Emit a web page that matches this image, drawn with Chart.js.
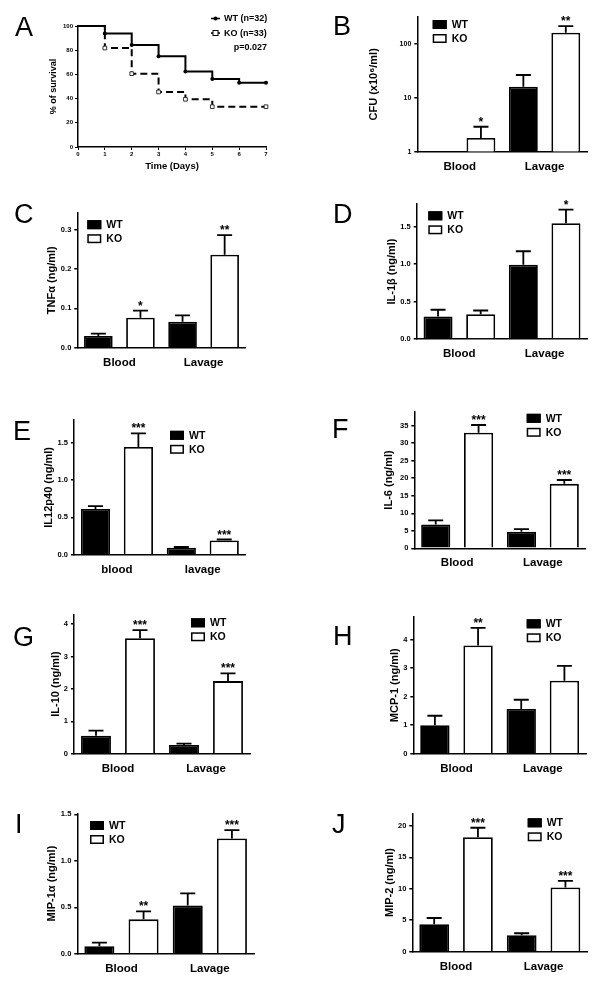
<!DOCTYPE html>
<html>
<head>
<meta charset="utf-8">
<script src="https://cdn.jsdelivr.net/npm/chart.js@4/dist/chart.umd.min.js"></script>
<style>
  body { margin: 0; background: #fff; width: 602px; height: 988px; position: relative; overflow: hidden; }
  canvas { position: absolute; left: 0; top: 0; }
</style>
</head>
<body>
<canvas id="pA" width="602" height="988"></canvas>
<canvas id="pB" width="602" height="988"></canvas>
<canvas id="pC" width="602" height="988"></canvas>
<canvas id="pD" width="602" height="988"></canvas>
<canvas id="pE" width="602" height="988"></canvas>
<canvas id="pF" width="602" height="988"></canvas>
<canvas id="pG" width="602" height="988"></canvas>
<canvas id="pH" width="602" height="988"></canvas>
<canvas id="pI" width="602" height="988"></canvas>
<canvas id="pJ" width="602" height="988"></canvas>
<script>
/* ---------- data ---------- */

// A - survival
const days = [0, 1, 2, 3, 4, 5, 6, 7];
const wtSurvival = [100, 93.8, 84.4, 75.0, 62.5, 56.3, 53.1, 53.1];
const koSurvival = [100, 81.8, 60.6, 45.5, 39.4, 33.3, 33.3, 33.3];
const survivalLabels = ['WT (n=32)', 'KO (n=33)'];
const survivalP = 'p=0.027';
const survivalTicks = [0, 20, 40, 60, 80, 100];

const groups = ['Blood', 'Lavage'];
const groupsLower = ['blood', 'lavage'];
const genotypes = ['WT', 'KO'];

// B - CFU, log axis
const cfuWT = [1, 16];       const cfuWTsem = [0, 10.3];
const cfuKO = [1.8, 160];    const cfuKOsem = [1.1, 52];
const cfuStars = ['*', '**'];
const cfuTicks = [1, 10, 100];

// C - TNFa
const tnfWT = [0.030, 0.066];  const tnfWTsem = [0.006, 0.016];
const tnfKO = [0.076, 0.236];  const tnfKOsem = [0.018, 0.050];
const tnfStars = ['*', '**'];
const tnfTicks = [0, 0.1, 0.2, 0.3];

// D - IL-1b
const il1WT = [0.30, 0.99];   const il1WTsem = [0.09, 0.18];
const il1KO = [0.33, 1.545];  const il1KOsem = [0.05, 0.18];
const il1Stars = ['', '*'];
const il1Ticks = [0, 0.5, 1.0, 1.5];

// E - IL12p40
const il12WT = [0.61, 0.094]; const il12WTsem = [0.04, 0.009];
const il12KO = [1.44, 0.19];  const il12KOsem = [0.18, 0.013];
const il12Stars = ['***', '***'];
const il12Ticks = [0, 0.5, 1.0, 1.5];

// F - IL-6
const il6WT = [6.8, 4.7];     const il6WTsem = [1.2, 0.75];
const il6KO = [33.0, 18.4];   const il6KOsem = [2.2, 1.1];
const il6Stars = ['***', '***'];
const il6Ticks = [0, 5, 10, 15, 20, 25, 30, 35];

// G - IL-10
const il10WT = [0.55, 0.27];  const il10WTsem = [0.16, 0.04];
const il10KO = [3.56, 2.24];  const il10KOsem = [0.25, 0.24];
const il10Stars = ['***', '***'];
const il10Ticks = [0, 1, 2, 3, 4];

// H - MCP-1
const mcpWT = [1.0, 1.57];    const mcpWTsem = [0.33, 0.32];
const mcpKO = [3.79, 2.56];   const mcpKOsem = [0.62, 0.52];
const mcpStars = ['**', ''];
const mcpTicks = [0, 1, 2, 3, 4];

// I - MIP-1a
const mip1WT = [0.08, 0.52];  const mip1WTsem = [0.04, 0.13];
const mip1KO = [0.37, 1.24];  const mip1KOsem = [0.085, 0.09];
const mip1Stars = ['**', '***'];
const mip1Ticks = [0, 0.5, 1.0, 1.5];

// J - MIP-2
const mip2WT = [4.36, 2.61];  const mip2WTsem = [1.0, 0.32];
const mip2KO = [18.2, 10.2];  const mip2KOsem = [1.5, 1.07];
const mip2Stars = ['***', '***'];
const mip2Ticks = [0, 5, 10, 15, 20];

/* ---------- layout helpers ---------- */

const FONT = '"Liberation Sans", Arial, Helvetica, sans-serif';
Chart.defaults.font.family = FONT;
Chart.defaults.color = '#000';

const PAGE_W = 602, PAGE_H = 988, Y_W = 40, X_H = 30;

function pad(r) {
    return { left: r.l - Y_W, top: r.t, right: PAGE_W - r.r, bottom: PAGE_H - r.b - X_H };
}
function fixW(s) { s.width = Y_W; }
function fixH(s) { s.height = X_H; }

function yTitle(text, r, cx, size) {
    const lh = size * 1.2;
    return {
        display: true, text, color: '#000',
        font: { size, weight: 'bold' },
        padding: { top: cx - (r.l - Y_W) - lh / 2, bottom: 0 }
    };
}

// error bars, stars, legend and the panel letter
const decor = {
    id: 'decor',
    afterDatasetsDraw(chart, args, o) {
        if (!o.sem) return;
        const ctx = chart.ctx;
        const y = chart.scales.y;
        ctx.save();
        ctx.strokeStyle = '#000';
        ctx.fillStyle = '#000';
        ctx.lineWidth = 1.8;
        ctx.font = 'bold 12px ' + FONT;
        ctx.textAlign = 'center';
        ctx.textBaseline = 'alphabetic';
        o.sem.forEach((sem, i) => {
            const vals = chart.data.datasets[i].data;
            chart.getDatasetMeta(i).data.forEach((bar, j) => {
                const top = y.getPixelForValue(vals[j]);
                const end = y.getPixelForValue(vals[j] + sem[j]);
                if (sem[j] > 0) {
                    ctx.beginPath();
                    ctx.moveTo(bar.x, top);
                    ctx.lineTo(bar.x, end);
                    ctx.moveTo(bar.x - 7.5, end);
                    ctx.lineTo(bar.x + 7.5, end);
                    ctx.stroke();
                }
                const star = o.stars[i] && o.stars[i][j];
                if (star) ctx.fillText(star, bar.x, end - 1);
            });
        });
        ctx.restore();
    },
    afterDraw(chart, args, o) {
        const ctx = chart.ctx;
        ctx.save();
        ctx.fillStyle = '#000';
        ctx.strokeStyle = '#000';
        ctx.font = '27px ' + FONT;
        ctx.textAlign = 'left';
        ctx.textBaseline = 'alphabetic';
        ctx.fillText(o.letter, o.letterAt[0], o.letterAt[1]);

        if (o.boxLegend) {
            const [lx, ly] = o.boxLegend;
            ctx.font = 'bold 10.5px ' + FONT;
            ctx.textBaseline = 'middle';
            chart.data.datasets.forEach((ds, i) => {
                const cy = ly + i * 14;
                ctx.fillStyle = ds.backgroundColor;
                ctx.fillRect(lx, cy - 4.5, 14, 9);
                ctx.lineWidth = 1.5;
                ctx.strokeRect(lx + 0.75, cy - 3.75, 12.5, 7.5);
                ctx.fillStyle = '#000';
                ctx.fillText(ds.label, lx + 19, cy + 0.5);
            });
        }

        if (o.lineLegend) {
            const [lx, ly] = o.lineLegend;
            ctx.font = 'bold 9px ' + FONT;
            ctx.textBaseline = 'middle';
            chart.data.datasets.forEach((ds, i) => {
                const cy = ly + i * 14.5;
                ctx.lineWidth = 1.5;
                ctx.setLineDash([]);
                ctx.beginPath();
                ctx.moveTo(lx, cy);
                ctx.lineTo(lx + 9, cy);
                ctx.stroke();
                if (i === 0) {
                    ctx.beginPath();
                    ctx.arc(lx + 4.5, cy, 2, 0, Math.PI * 2);
                    ctx.fill();
                } else {
                    ctx.fillStyle = '#fff';
                    ctx.fillRect(lx + 2, cy - 2.5, 5, 5);
                    ctx.lineWidth = 1;
                    ctx.strokeRect(lx + 2, cy - 2.5, 5, 5);
                    ctx.fillStyle = '#000';
                }
                ctx.fillText(ds.label, lx + 13, cy + 0.5);
            });
            ctx.textAlign = 'right';
            ctx.fillText(o.pText, o.pAt[0], o.pAt[1]);
        }
        ctx.restore();
    }
};

/* ---------- A: survival curve ---------- */

const rectA = { l: 78, t: 26, r: 266, b: 147 };
new Chart(document.getElementById('pA'), {
    type: 'line',
    data: {
        datasets: [
            {
                label: survivalLabels[0],
                data: days.map((d, i) => ({ x: d, y: wtSurvival[i] })),
                stepped: true, clip: false,
                borderColor: '#000', borderWidth: 2,
                pointStyle: 'circle',
                pointRadius: [0, 2, 2, 2, 2, 2, 2, 2],
                pointBackgroundColor: '#000', pointBorderColor: '#000', pointBorderWidth: 0
            },
            {
                label: survivalLabels[1],
                data: days.map((d, i) => ({ x: d, y: koSurvival[i] })),
                stepped: true, clip: false,
                borderColor: '#000', borderWidth: 2, borderDash: [7, 4],
                pointStyle: 'rect',
                pointRadius: [0, 2.6, 2.6, 2.6, 2.6, 2.6, 0, 2.6],
                pointBackgroundColor: '#fff', pointBorderColor: '#333', pointBorderWidth: 1
            }
        ]
    },
    options: {
        responsive: false, animation: false, devicePixelRatio: 1,
        layout: { padding: pad(rectA) },
        plugins: {
            legend: { display: false }, tooltip: { enabled: false },
            decor: { letter: 'A', letterAt: [15, 36], lineLegend: [211, 18.5], pText: survivalP, pAt: [267, 47.5] }
        },
        scales: {
            x: {
                type: 'linear', min: days[0], max: days[days.length - 1],
                afterBuildTicks: s => { s.ticks = days.map(v => ({ value: v })); },
                ticks: { font: { size: 6, weight: 'bold' }, color: '#000', padding: 1 },
                grid: { drawOnChartArea: false, tickLength: 3, color: '#000', lineWidth: 1 },
                border: { color: '#000', width: 1.5 },
                title: { display: true, text: 'Time (Days)', color: '#000', font: { size: 9.5, weight: 'bold' }, padding: { top: 0, bottom: 5.3 } },
                afterFit: fixH
            },
            y: {
                min: 0, max: 100,
                afterBuildTicks: s => { s.ticks = survivalTicks.map(v => ({ value: v })); },
                ticks: { font: { size: 6, weight: 'bold' }, color: '#000', padding: 2 },
                grid: { drawOnChartArea: false, tickLength: 3, color: '#000', lineWidth: 1 },
                border: { color: '#000', width: 1.5 },
                title: yTitle('% of survival', rectA, 54, 9),
                afterFit: fixW
            }
        }
    },
    plugins: [decor]
});

/* ---------- B-J: bar panels ---------- */

function barPanel(p) {
    return new Chart(document.getElementById(p.id), {
        type: 'bar',
        data: {
            labels: p.labels,
            datasets: [
                { label: genotypes[0], data: p.wt, backgroundColor: '#000', borderColor: '#000', borderWidth: 1.8 },
                { label: genotypes[1], data: p.ko, backgroundColor: '#fff', borderColor: '#000', borderWidth: 1.8 }
            ]
        },
        options: {
            responsive: false, animation: false, devicePixelRatio: 1,
            layout: { padding: pad(p.rect) },
            datasets: { bar: { categoryPercentage: 1, barPercentage: 0.68 } },
            plugins: {
                legend: { display: false }, tooltip: { enabled: false },
                decor: {
                    sem: [p.wtSem, p.koSem], stars: [[], p.stars],
                    letter: p.letter, letterAt: p.letterAt, boxLegend: p.legendAt
                }
            },
            scales: {
                x: {
                    ticks: { font: { size: 11.5, weight: 'bold' }, color: '#000', padding: 8 },
                    grid: { display: false, drawTicks: false },
                    border: { display: true, color: '#000', width: 1.5 },
                    afterFit: fixH
                },
                y: {
                    type: p.log ? 'logarithmic' : 'linear',
                    min: p.ticks[0], max: p.max,
                    afterBuildTicks: s => { s.ticks = p.ticks.map(v => ({ value: v })); },
                    ticks: {
                        callback: v => p.dec ? Number(v).toFixed(p.dec) : String(v),
                        font: { size: p.tickSize || 7.5, weight: 'bold' }, color: '#000', padding: 3
                    },
                    grid: { drawOnChartArea: false, tickLength: 3, color: '#000', lineWidth: 1.5 },
                    border: { color: '#000', width: 1.5 },
                    title: yTitle(p.title, p.rect, p.titleX, 11),
                    afterFit: fixW
                }
            }
        },
        plugins: [decor]
    });
}

barPanel({ id: 'pB', letter: 'B', letterAt: [333, 35], labels: groups,
    wt: cfuWT, wtSem: cfuWTsem, ko: cfuKO, koSem: cfuKOsem, stars: cfuStars,
    log: true, ticks: cfuTicks, max: 312, dec: 0, tickSize: 7,
    title: 'CFU (x10⁶/ml)', titleX: 374, rect: { l: 417.3, t: 17, r: 587, b: 151.7 }, legendAt: [432.7, 24.5] });

barPanel({ id: 'pC', letter: 'C', letterAt: [14, 223], labels: groups,
    wt: tnfWT, wtSem: tnfWTsem, ko: tnfKO, koSem: tnfKOsem, stars: tnfStars,
    ticks: tnfTicks, max: 0.343, dec: 1,
    title: 'TNFα (ng/ml)', titleX: 51.7, rect: { l: 77.3, t: 212.7, r: 245.7, b: 347.7 }, legendAt: [87.3, 224.7] });

barPanel({ id: 'pD', letter: 'D', letterAt: [333, 223], labels: groups,
    wt: il1WT, wtSem: il1WTsem, ko: il1KO, koSem: il1KOsem, stars: il1Stars,
    ticks: il1Ticks, max: 1.8, dec: 1,
    title: 'IL-1β (ng/ml)', titleX: 391.7, rect: { l: 416.7, t: 204, r: 587.3, b: 339 }, legendAt: [428.3, 215.8] });

barPanel({ id: 'pE', letter: 'E', letterAt: [13, 440], labels: groupsLower,
    wt: il12WT, wtSem: il12WTsem, ko: il12KO, koSem: il12KOsem, stars: il12Stars,
    ticks: il12Ticks, max: 1.8, dec: 1,
    title: 'IL12p40 (ng/ml)', titleX: 49.3, rect: { l: 74, t: 420, r: 245.7, b: 554.7 }, legendAt: [170, 435.3] });

barPanel({ id: 'pF', letter: 'F', letterAt: [332, 438], labels: groups,
    wt: il6WT, wtSem: il6WTsem, ko: il6KO, koSem: il6KOsem, stars: il6Stars,
    ticks: il6Ticks, max: 39, dec: 0,
    title: 'IL-6 (ng/ml)', titleX: 389.3, rect: { l: 414.3, t: 411.7, r: 585.7, b: 548.3 }, legendAt: [526.7, 418.3] });

barPanel({ id: 'pG', letter: 'G', letterAt: [13, 646], labels: groups,
    wt: il10WT, wtSem: il10WTsem, ko: il10KO, koSem: il10KOsem, stars: il10Stars,
    ticks: il10Ticks, max: 4.3, dec: 0,
    title: 'IL-10 (ng/ml)', titleX: 56, rect: { l: 74, t: 614.3, r: 250, b: 753.7 }, legendAt: [191, 622.8] });

barPanel({ id: 'pH', letter: 'H', letterAt: [333, 645], labels: groups,
    wt: mcpWT, wtSem: mcpWTsem, ko: mcpKO, koSem: mcpKOsem, stars: mcpStars,
    ticks: mcpTicks, max: 4.8, dec: 0,
    title: 'MCP-1 (ng/ml)', titleX: 395, rect: { l: 413.3, t: 616.7, r: 586, b: 753.7 }, legendAt: [526.7, 623.8] });

barPanel({ id: 'pI', letter: 'I', letterAt: [15, 833], labels: groups,
    wt: mip1WT, wtSem: mip1WTsem, ko: mip1KO, koSem: mip1KOsem, stars: mip1Stars,
    ticks: mip1Ticks, max: 1.51, dec: 1,
    title: 'MIP-1α (ng/ml)', titleX: 51.7, rect: { l: 77.3, t: 813.5, r: 254, b: 953.7 }, legendAt: [90, 825.5] });

barPanel({ id: 'pJ', letter: 'J', letterAt: [332, 833], labels: groups,
    wt: mip2WT, wtSem: mip2WTsem, ko: mip2KO, koSem: mip2KOsem, stars: mip2Stars,
    ticks: mip2Ticks, max: 22, dec: 0,
    title: 'MIP-2 (ng/ml)', titleX: 390, rect: { l: 412.3, t: 813.3, r: 587.3, b: 951.7 }, legendAt: [527.7, 822.8] });
</script>
</body>
</html>
